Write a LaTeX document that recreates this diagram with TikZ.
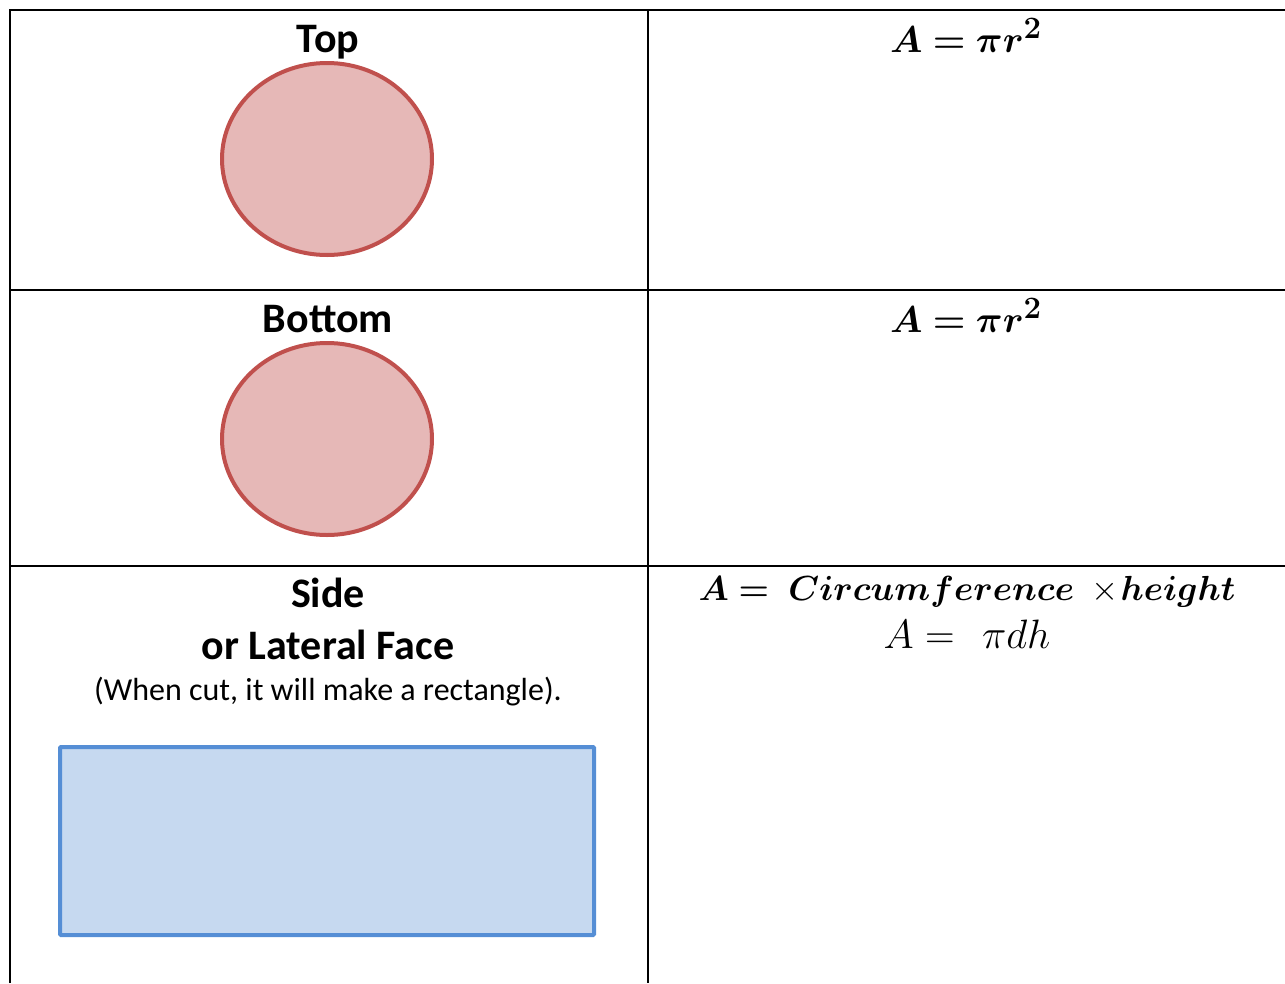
\documentclass[tikz,border=0pt]{standalone}
\usepackage{fontspec}
\usepackage{graphicx}
\usepackage{amsmath,bm}
\setmainfont{Carlito}
\definecolor{faceRed}{HTML}{E6B8B7}
\definecolor{edgeRed}{HTML}{C0504D}
\definecolor{faceBlue}{HTML}{C6D9F0}
\definecolor{edgeBlue}{HTML}{558ED5}
\tikzset{
	grid line/.style={line width=2pt},
	disc/.style={draw=edgeRed, fill=faceRed, line width=4pt},
	sheet/.style={draw=edgeBlue, fill=faceBlue, line width=4pt, rounded corners=1pt},
	title/.style={anchor=base, inner sep=0, font=\fontsize{42}{50}\selectfont\bfseries},
	note/.style={anchor=base, inner sep=0, font=\fontsize{32}{38}\selectfont},
	formula/.style={anchor=base, inner sep=0, font=\fontsize{24.88}{30}\selectfont}
}
\begin{document}
\begin{tikzpicture}[x=1pt,y=-1pt]
		\useasboundingbox (0,0) rectangle (1285,983);
		\begin{scope}
			\draw[grid line] (10,983) -- (10,10) -- (1285,10);
			\draw[grid line] (648,10) -- (648,983);
			\draw[grid line] (10,290) -- (1285,290);
			\draw[grid line] (10,566) -- (1285,566);
		\end{scope}
		\begin{scope}
			\node [title] (top) at (328,52) {Top};
			\draw [disc] (327,159) ellipse [x radius=105, y radius=96];
			\node [formula] (areaTop) at (966,52) {\scalebox{1.5}{$\bm{A = \pi r^2}$}};
		\end{scope}
		\begin{scope}[yshift=-280]
			\node [title] (bottom) at (328,52) {Bottom};
			\draw [disc] (327,159) ellipse [x radius=105, y radius=96];
			\node [formula] (areaBottom) at (966,52) {\scalebox{1.5}{$\bm{A = \pi r^2}$}};
		\end{scope}
		\begin{scope}
			\node [title] (side) at (328,607) {Side};
			\node [title] (lateral) at (328,659) {or Lateral Face};
			\node [note] (cut) at (328,700) {(When cut, it will make a rectangle).};
			\draw [sheet] (60,747) rectangle (594,935);
			\node [formula] (areaSide) at (967,600) {\scalebox{1.4}{$\bm{A =}\;\bm{Circumference}\;\times\!\bm{height}$}};
			\node [formula] (areaPi) at (967,648) {\scalebox{1.65}{$A =\ \,\pi d h$}};
		\end{scope}
\end{tikzpicture}
\end{document}
